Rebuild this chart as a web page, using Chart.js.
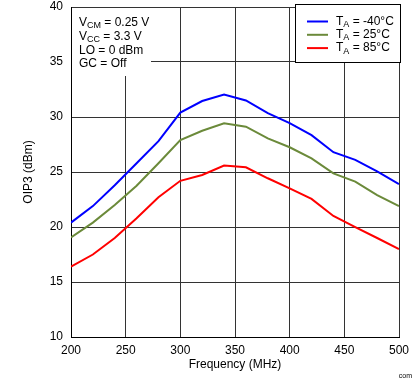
<!DOCTYPE html>
<html><head><meta charset="utf-8">
<script src="https://cdn.jsdelivr.net/npm/chart.js@4/dist/chart.umd.min.js"></script>
<style>html,body{margin:0;padding:0;background:#fff}#wrap{width:419px;height:382px}</style>
</head><body><div id="wrap"><canvas id="c" width="419" height="382"></canvas></div>
<script>
const freq = [200,220,240,260,280,300,320,340,360,380,400,420,440,460,480,500];
const oipM40 = [20.4,21.9,23.8,25.8,27.8,30.4,31.45,32.05,31.5,30.35,29.45,28.35,26.8,26.1,25.05,23.9];
const oip25  = [19.06,20.4,22.0,23.75,25.8,27.9,28.75,29.43,29.12,28.06,27.25,26.24,24.88,24.12,22.9,21.9];
const oip85  = [16.4,17.5,19.0,20.8,22.7,24.2,24.73,25.58,25.43,24.43,23.52,22.55,21.0,19.98,19.0,18.0];
const seriesNames = ['-40°C','25°C','85°C'];
const xTicks = [200,250,300,350,400,450,500];
const yTicks = [10,15,20,25,30,35,40];
const notes = [['V','CM',' = 0.25 V'],['V','CC',' = 3.3 V'],['LO = 0 dBm','',''],['GC = Off','','']];
const FONT = '"Liberation Sans", Arial, sans-serif';

function pts(v){ return freq.map((f,i)=>({x:f,y:v[i]})); }
const colors = ['#0000ff','#6b8a3a','#ff0000'];

const overlay = {
  id:'overlay',
  afterDatasetsDraw(chart){
    const ctx = chart.ctx, ca = chart.chartArea;
    ctx.save();
    // annotation box
    ctx.fillStyle='#fff';
    ctx.fillRect(ca.left+1, ca.top+1, 79, 68);
    ctx.fillStyle='#000';
    ctx.textBaseline='middle';
    let y = 23;
    notes.forEach(n=>{
      let x = 79;
      ctx.font = '12px '+FONT;
      ctx.fillText(n[0], x, y); x += ctx.measureText(n[0]).width;
      if(n[1]){ ctx.font='9px '+FONT; ctx.fillText(n[1], x, y+3); x += ctx.measureText(n[1]).width; }
      ctx.font = '12px '+FONT;
      if(n[2]) ctx.fillText(n[2], x, y);
      y += 13.6;
    });
    // legend box
    ctx.fillStyle='#fff';
    ctx.fillRect(295.5,4.5,105,58);
    ctx.strokeStyle='#000'; ctx.lineWidth=1;
    ctx.strokeRect(295.5,4.5,105,58);
    chart.data.datasets.forEach((ds,i)=>{
      const ly = 21.5 + i*13.3;
      ctx.strokeStyle = ds.borderColor; ctx.lineWidth=2;
      ctx.beginPath(); ctx.moveTo(307,ly); ctx.lineTo(328,ly); ctx.stroke();
      ctx.fillStyle='#000';
      let x = 336;
      ctx.font='12px '+FONT; ctx.fillText('T', x, ly); x += ctx.measureText('T').width;
      ctx.font='9px '+FONT; ctx.fillText('A', x, ly+3); x += ctx.measureText('A').width;
      ctx.font='12px '+FONT; ctx.fillText(' = '+ds.label, x, ly);
    });
    // axis titles
    ctx.fillStyle='#000';
    ctx.font='12px '+FONT;
    ctx.textAlign='center';
    ctx.fillText('Frequency (MHz)', (ca.left+ca.right)/2, 365);
    ctx.save();
    ctx.translate(29, (ca.top+ca.bottom)/2);
    ctx.rotate(-Math.PI/2);
    ctx.fillText('OIP3 (dBm)', 0, 0);
    ctx.restore();
    ctx.font='7px '+FONT;
    ctx.textAlign='right';
    ctx.fillText('com', 412, 376);
    ctx.restore();
  }
};

new Chart(document.getElementById('c'), {
  type:'line',
  data:{ datasets:[
    {label:seriesNames[0], data:pts(oipM40), borderColor:colors[0]},
    {label:seriesNames[1], data:pts(oip25), borderColor:colors[1]},
    {label:seriesNames[2], data:pts(oip85), borderColor:colors[2]}
  ].map(d=>Object.assign(d,{borderWidth:2,pointRadius:0,tension:0,fill:false}))},
  options:{
    responsive:false, animation:false, devicePixelRatio:1,
    layout:{padding:{left:0,top:7,right:20,bottom:0}},
    plugins:{legend:{display:false},tooltip:{enabled:false}},
    scales:{
      x:{type:'linear',min:200,max:500,
        afterBuildTicks(s){ s.ticks = xTicks.map(v=>({value:v})); },
        afterFit(s){ s.height=45; s.paddingLeft=0; s.paddingRight=0; },
        grid:{color:'#333',lineWidth:1,drawTicks:false},
        border:{color:'#000',width:1},
        ticks:{color:'#000',font:{family:FONT,size:12},padding:6,maxRotation:0}
      },
      y:{min:10,max:40,
        afterBuildTicks(s){ s.ticks = yTicks.map(v=>({value:v})); },
        afterFit(s){ s.width=71; s.paddingTop=0; s.paddingBottom=0; },
        grid:{color:'#333',lineWidth:1,drawTicks:false},
        border:{color:'#000',width:1},
        ticks:{color:'#000',font:{family:FONT,size:12},padding:8}
      }
    }
  },
  plugins:[overlay]
});
</script></body></html>
